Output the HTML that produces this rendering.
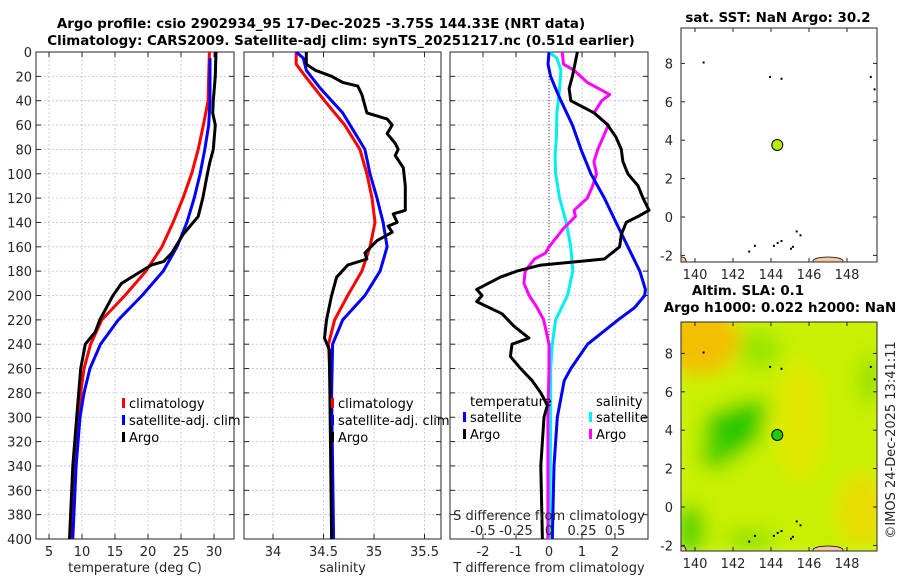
<!DOCTYPE html>
<html><head><meta charset="utf-8">
<style>
html,body{margin:0;padding:0;background:#fff;}
svg{display:block;font-family:"DejaVu Sans","Liberation Sans",sans-serif;}
.tk{font-size:13px;fill:#262626;}
.ttl{font-size:13.4px;font-weight:bold;fill:#000;}
.lg{font-size:13px;fill:#000;}
</style></head>
<body>
<svg id="fig" width="900" height="580" viewBox="0 0 900 580">
<defs>
<filter id="blur" x="-10%" y="-10%" width="120%" height="120%"><feGaussianBlur stdDeviation="9"/></filter>
<clipPath id="clipMap2"><rect x="681" y="322" width="196" height="229"/></clipPath>
<clipPath id="clipMap1"><rect x="681" y="28" width="196" height="234"/></clipPath>
</defs>
<text class="ttl" x="321" y="28" text-anchor="middle">Argo profile: csio 2902934_95 17-Dec-2025 -3.75S 144.33E (NRT data)</text>
<text class="ttl" x="341" y="45" text-anchor="middle">Climatology: CARS2009. Satellite-adj clim: synTS_20251217.nc (0.51d earlier)</text>
<g id="layer"></g>
</svg>
<script>
// ---------- data ----------
var depthT = [0,20,40,60,80,100,120,140,160,180,200,220,240,260,280,300,340,400];
var tempClim = [29.3,29.2,29.1,28.4,27.6,26.6,25.3,23.8,22.1,19.7,16.5,13.0,11.3,10.3,9.8,9.4,8.8,8.4];
var depthTS = [5,20,40,60,80,100,120,140,160,180,200,220,240,260,280,300,340,400];
var tempSat = [29.4,29.4,29.4,29.2,28.6,27.9,27.0,25.9,24.4,22.3,19.1,15.5,12.8,11.2,10.3,9.7,9.1,8.6];
var depthTA = [0,20,40,50,60,80,90,100,120,135,150,165,172,175,180,190,200,220,230,240,260,300,340,400];
var tempArgo = [30.3,30.2,29.9,29.8,30.2,29.9,29.4,29.0,28.3,27.6,25.3,23.6,22.4,20.5,19.0,16.0,14.7,12.7,12.0,10.5,9.8,9.2,8.6,8.1];

var depthS = [0,10,20,40,60,80,100,120,140,160,180,200,220,240,260,300,400];
var salClim = [34.23,34.23,34.32,34.51,34.71,34.86,34.93,34.98,35.01,34.96,34.88,34.74,34.61,34.55,34.56,34.57,34.59];
var depthSS = [0,5,15,30,50,80,100,120,140,160,180,200,220,240,280,400];
var salSat = [34.23,34.30,34.33,34.47,34.69,34.91,34.96,35.03,35.09,35.13,35.06,34.91,34.69,34.59,34.58,34.60];
var depthSA = [0,10,15,20,25,28,35,50,55,60,67,75,80,85,95,110,130,133,140,143,148,155,165,170,175,185,200,220,235,245,260,400];
var salArgo = [34.33,34.33,34.42,34.58,34.69,34.84,34.88,34.93,35.13,35.18,35.13,35.21,35.24,35.21,35.29,35.31,35.31,35.19,35.23,35.14,35.18,35.03,34.91,34.93,34.74,34.63,34.58,34.53,34.51,34.56,34.56,34.58];

var depthDA = [0,20,30,40,50,60,70,80,90,100,110,120,130,135,140,150,160,170,175,180,185,195,200,205,215,225,235,240,250,260,270,280,290,300,340,400];
var dTArgo = [0.86,0.71,0.61,0.66,1.37,1.78,2.03,2.19,2.24,2.39,2.70,2.85,3.03,2.70,2.34,2.19,2.14,1.68,-0.25,-0.97,-1.48,-2.19,-2.03,-2.19,-1.42,-1.07,-0.61,-1.12,-1.17,-0.86,-0.51,-0.25,-0.05,-0.15,-0.25,-0.20];
var depthDS = [0,10,20,30,40,60,80,100,120,140,160,180,195,200,210,220,240,260,270,300,340,400];
var dTSat = [0,-0.03,0.05,0.2,0.36,0.71,0.97,1.27,1.68,2.03,2.39,2.75,2.92,2.90,2.59,2.09,1.17,0.66,0.46,0.25,0.15,0.10];
var depthDC = [0,5,15,30,50,70,85,100,120,140,160,180,200,220,240,260,300,400];
var dSSat = [0,0.06,0.09,0.08,0.06,0.056,0.046,0.05,0.08,0.13,0.165,0.18,0.14,0.05,0.025,0.013,0.013,0.005];
var depthDM = [0,10,15,25,35,40,50,60,70,80,90,100,110,120,130,135,145,160,165,170,180,190,200,210,220,240,260,300,400];
var dSArgo = [0.10,0.11,0.19,0.29,0.46,0.40,0.34,0.45,0.41,0.37,0.34,0.36,0.33,0.29,0.19,0.20,0.11,0,-0.025,-0.11,-0.18,-0.19,-0.15,-0.09,-0.04,0,0,-0.008,-0.008];

var depthTicks = [0,20,40,60,80,100,120,140,160,180,200,220,240,260,280,300,320,340,360,380,400];
var tTicks = [5,10,15,20,25,30];
var sTicks = [34,34.5,35,35.5];
var dtTicks = [-2,-1,0,1,2];
var dsTicks = [-0.5,-0.25,0,0.25,0.5];
var lonTicks = [140,142,144,146,148];
var latTicks = [-2,0,2,4,6,8];
var argoLon = 144.33, argoLat = 3.75;

// ---------- helpers ----------
var NS='http://www.w3.org/2000/svg';
var layer=document.getElementById('layer');
function mk(tag,attrs,parent){var e=document.createElementNS(NS,tag);for(var k in attrs)e.setAttribute(k,attrs[k]);(parent||layer).appendChild(e);return e;}
var Y0=52,Y1=539;
function yD(d){return Y0+d*(Y1-Y0)/400;}
function xT(t){return 49+(t-5)*6.6;}
function xS(s){return 273+(s-34)*101;}
function xDT(v){return 549+v*33;}
function xDS(v){return 549+v*132;}
function panel(x0,x1,name,xticks,xfun,xlab,showY){
  var g=mk('g',{});
  
  
  depthTicks.forEach(function(d){
    var l=mk('line',{x1:x0,x2:x1,y1:yD(d),y2:yD(d),stroke:'#b8c4de','stroke-width':0.8,'stroke-dasharray':'2,2'},g);
    
    
    mk('line',{x1:x0,x2:x0+5,y1:yD(d),y2:yD(d),stroke:'#262626'},g);
    mk('line',{x1:x1-5,x2:x1,y1:yD(d),y2:yD(d),stroke:'#262626'},g);
    if(showY){var t=mk('text',{x:x0-4,y:yD(d)+5,'text-anchor':'end','class':'tk'},g);t.textContent=d;
      
      }
  });
  xticks.forEach(function(v){
    var x=xfun(v);
    var l=mk('line',{x1:x,x2:x,y1:Y0,y2:Y1,stroke:'#b8c4de','stroke-width':0.8,'stroke-dasharray':'2,2'},g);
    
    
    mk('line',{x1:x,x2:x,y1:Y1,y2:Y1-5,stroke:'#262626'},g);
    mk('line',{x1:x,x2:x,y1:Y0,y2:Y0+5,stroke:'#262626'},g);
    var t=mk('text',{x:x,y:556,'text-anchor':'middle','class':'tk'},g);t.textContent=v;
    
    
  });
  mk('rect',{x:x0,y:Y0,width:x1-x0,height:Y1-Y0,fill:'none',stroke:'#262626','stroke-width':1},g);
  var xl=mk('text',{x:(x0+x1)/2,y:572,'text-anchor':'middle','class':'tk'},g);xl.textContent=xlab;
  
  
  return g;
}
function line(ds,vs,xf,color,name,w){
  var p=ds.map(function(d,i){return xf(vs[i]).toFixed(1)+','+yD(d).toFixed(1);}).join(' ');
  var e=mk('polyline',{points:p,fill:'none',stroke:color,'stroke-width':w||3,'stroke-linejoin':'round'});
  
  
}
function legend(x,y,color,label,name){
  var m=mk('rect',{x:x,y:y-9,width:3,height:10,fill:color});
  
  
  var t=mk('text',{x:x+7,y:y+1,'class':'lg'});t.textContent=label;
  
  
}
// ---------- panel 1: temperature ----------
panel(36,234,'temperature-panel',tTicks,xT,'temperature (deg C)',true);
line(depthT,tempClim,xT,'#ff0000','temp-climatology-line');
line(depthTS,tempSat,xT,'#0000ff','temp-satellite-line');
line(depthTA,tempArgo,xT,'#000000','temp-argo-line');
legend(122,407,'#ff0000','climatology','legend-climatology');
legend(122,424,'#0000ff','satellite-adj. clim','legend-satellite-adj');
legend(122,441,'#000000','Argo','legend-argo');
// ---------- panel 2: salinity ----------
panel(244,441,'salinity-panel',sTicks,xS,'salinity',false);
line(depthS,salClim,xS,'#ff0000','sal-climatology-line');
line(depthSS,salSat,xS,'#0000ff','sal-satellite-line');
line(depthSA,salArgo,xS,'#000000','sal-argo-line');
legend(331,407,'#ff0000','climatology','legend-climatology-s');
legend(331,424,'#0000ff','satellite-adj. clim','legend-satellite-adj-s');
legend(331,441,'#000000','Argo','legend-argo-s');
// ---------- panel 3: differences ----------
panel(450,648,'difference-panel',dtTicks,xDT,'T difference from climatology',false);
var z=mk('line',{x1:549,x2:549,y1:Y0,y2:Y1,stroke:'#333','stroke-width':1,'stroke-dasharray':'1,2'});


line(depthDC,dSSat,xDS,'#00f0f0','s-satellite-diff-line');
line(depthDM,dSArgo,xDS,'#ff00ff','s-argo-diff-line');
line(depthDS,dTSat,xDT,'#0000ff','t-satellite-diff-line');
line(depthDA,dTArgo,xDT,'#000000','t-argo-diff-line');
var st=mk('text',{x:549,y:520,'text-anchor':'middle','class':'tk'});st.textContent='S difference from climatology';


dsTicks.forEach(function(v){var t=mk('text',{x:xDS(v),y:535,'text-anchor':'middle','class':'tk'});t.textContent=v;
  
  });
var lt=mk('text',{x:470,y:406,'class':'lg'});lt.textContent='temperature';


var ls=mk('text',{x:596,y:406,'class':'lg'});ls.textContent='salinity';


legend(463,421,'#0000ff','satellite','legend-t-satellite');
legend(463,438,'#000000','Argo','legend-t-argo');
legend(589,421,'#00f0f0','satellite','legend-s-satellite');
legend(589,438,'#ff00ff','Argo','legend-s-argo');

// ---------- maps ----------
function drawMap(lat0y,name,clip){
  var xL=function(l){return 695+(l-140)*19;};
  var yL=function(l){return lat0y-l*19.2;};
  var g=mk('g',{});
  
  
  var cg=mk('g',{'clip-path':'url(#'+clip+')'},g);
  return {g:g,cg:cg,xL:xL,yL:yL};
}
var m1=drawMap(217,'sst-map','clipMap1');
var m2=drawMap(507,'sla-map','clipMap2');
var f=mk('g',{filter:'url(#blur)'},m2.cg);
mk('rect',{x:670,y:310,width:220,height:250,fill:'#c8f000'},f);
mk('ellipse',{cx:700,cy:340,rx:40,ry:35,fill:'#f2c000'},f);
mk('ellipse',{cx:800,cy:420,rx:25,ry:60,fill:'#e2e800'},f);
mk('ellipse',{cx:862,cy:510,rx:25,ry:35,fill:'#e8dc00'},f);
mk('ellipse',{cx:760,cy:350,rx:20,ry:20,fill:'#9ae600'},f);
mk('polygon',{points:'705,415 745,400 770,400 760,440 720,470 700,465',fill:'#5ad400'},f);
mk('polygon',{points:'715,420 745,408 760,410 750,440 722,455',fill:'#22c800'},f);
mk('ellipse',{cx:690,cy:530,rx:15,ry:25,fill:'#5ad400'},f);
mk('ellipse',{cx:870,cy:380,rx:10,ry:25,fill:'#90e000'},f);
mk('ellipse',{cx:750,cy:540,rx:25,ry:10,fill:'#8ee000'},f);
[[m1,28,262],[m2,322,551]].forEach(function(a){
  var m=a[0],top=a[1],bot=a[2];
  mk('ellipse',{cx:m.xL(147.0),cy:bot-1,rx:15,ry:4,fill:'#f6c8a0',stroke:'#000','stroke-width':0.8},m.cg);
  mk('ellipse',{cx:682,cy:bot-1,rx:4,ry:4,fill:'#f6c8a0',stroke:'#000','stroke-width':0.8},m.cg);
  [[140.4,8.1],[143.9,7.35],[144.5,7.25],[149.2,7.35],[149.4,6.7],[145.3,-0.7],[145.5,-0.9],[142.8,-1.75],[143.1,-1.45],[144.1,-1.45],[144.3,-1.3],[144.5,-1.2],[145,-1.6],[145.1,-1.5]].forEach(function(p){
    var d=mk('rect',{x:m.xL(p[0]),y:m.yL(p[1]),width:2,height:2,fill:'#000'},m.cg);
    
    
  });
  mk('rect',{x:681,y:top,width:196,height:bot-top,fill:'none',stroke:'#262626'},m.g);
  latTicks.forEach(function(l){
    var y=m.yL(l);
    mk('line',{x1:681,x2:685,y1:y,y2:y,stroke:'#262626'},m.g);
    mk('line',{x1:873,x2:877,y1:y,y2:y,stroke:'#262626'},m.g);
    var t=mk('text',{x:673,y:y+5,'text-anchor':'end','class':'tk'},m.g);t.textContent=l;
    
    
  });
  lonTicks.forEach(function(l){
    var x=m.xL(l);
    mk('line',{x1:x,x2:x,y1:bot,y2:bot-4,stroke:'#262626'},m.g);
    mk('line',{x1:x,x2:x,y1:top,y2:top+4,stroke:'#262626'},m.g);
    var t=mk('text',{x:x,y:bot+17,'text-anchor':'middle','class':'tk'},m.g);t.textContent=l;
    
    
  });
});
var d1=mk('circle',{cx:m1.xL(argoLon),cy:m1.yL(argoLat),r:5.5,fill:'#b4ee00',stroke:'#000','stroke-width':1});


var d2=mk('circle',{cx:m2.xL(argoLon),cy:m2.yL(argoLat),r:5.5,fill:'#22cc00',stroke:'#000','stroke-width':1});


var t1=mk('text',{x:778,y:22,'text-anchor':'middle','class':'ttl'});t1.textContent='sat. SST: NaN Argo: 30.2';


var t2=mk('text',{x:748,y:295,'text-anchor':'middle','class':'ttl'});t2.textContent='Altim. SLA: 0.1';


var t3=mk('text',{x:780,y:312,'text-anchor':'middle','class':'ttl'});t3.textContent='Argo h1000: 0.022 h2000: NaN';


var cp=mk('text',{x:0,y:0,'class':'tk','text-anchor':'middle',transform:'translate(895,440) rotate(-90)'});cp.textContent='©IMOS 24-Dec-2025 13:41:11';


</script>
</body></html>
